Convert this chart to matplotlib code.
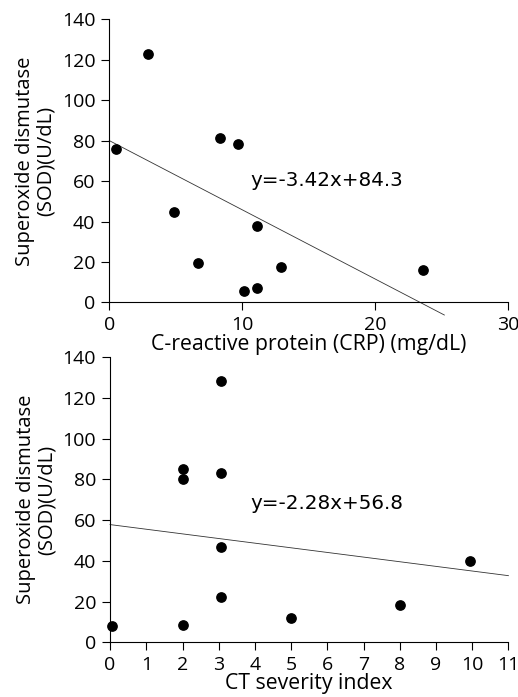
import matplotlib
matplotlib.use("Agg")
import matplotlib.pyplot as plt

plt.rcParams["font.family"] = ["Open Sans", "DejaVu Sans"]
plt.rcParams["font.size"] = 13

# top panel: SOD vs CRP
crp = [0.5, 2.9, 4.9, 6.7, 8.3, 9.7, 10.1, 11.1, 11.1, 12.9, 23.6]
sod_crp = [75.6, 122.7, 44.6, 19.3, 81.2, 78.4, 5.8, 37.7, 7.2, 17.5, 16.0]
crp_fit = (-3.42, 80.0)          # slope, intercept as drawn
crp_fit_x = [0, 25.2]
crp_eq = "y=-3.42x+84.3"

# bottom panel: SOD vs CT severity index
ct = [0.05, 2.0, 2.0, 2.0, 3.05, 3.05, 3.05, 3.05, 5.0, 8.0, 9.95]
sod_ct = [8.0, 8.5, 85.3, 80.1, 128.5, 83.0, 47.0, 22.3, 11.8, 18.2, 40.1]
ct_fit = (-2.28, 57.8)
ct_fit_x = [0, 11]
ct_eq = "y=-2.28x+56.8"

y_label = "Superoxide dismutase\n(SOD)(U/dL)"


def style_axes(ax):
    ax.spines["top"].set_visible(False)
    ax.spines["right"].set_visible(False)
    for s in ("left", "bottom"):
        ax.spines[s].set_linewidth(0.8)
    ax.tick_params(direction="out", length=6, width=0.8, pad=4, labelsize=14)
    ax.set_ylim(0, 140)
    ax.set_yticks(range(0, 141, 20))
    ax.set_ylabel(y_label, fontsize=14.5, linespacing=1.05, labelpad=4)


def draw_panel(ax, x, y, fit, fit_x, eq, eq_pos):
    ax.scatter(x, y, s=45, color="black", zorder=3, clip_on=False)
    fx = list(fit_x)
    fy = [fit[0] * v + fit[1] for v in fx]
    ax.plot(fx, fy, color="#333333", linewidth=0.6, clip_on=False)
    ax.text(eq_pos[0], eq_pos[1], eq, family="DejaVu Sans", fontsize=14.3,
            va="center", ha="left")


fig = plt.figure(figsize=(5.18, 6.97), dpi=100)

ax1 = fig.add_axes([0.211, 0.566, 0.770, 0.4065])
draw_panel(ax1, crp, sod_crp, crp_fit, crp_fit_x, crp_eq, (10.6, 60.5))
ax1.set_xlim(0, 30)
ax1.set_xticks([0, 10, 20, 30])
ax1.set_xlabel("C-reactive protein (CRP) (mg/dL)", fontsize=15.3, labelpad=0)
style_axes(ax1)

ax2 = fig.add_axes([0.2125, 0.0785, 0.769, 0.409])
draw_panel(ax2, ct, sod_ct, ct_fit, ct_fit_x, ct_eq, (3.87, 68.3))
ax2.set_xlim(0, 11)
ax2.set_xticks(range(0, 12))
ax2.set_xlabel("CT severity index", fontsize=15.3, labelpad=-0.5)
style_axes(ax2)

fig.savefig("out.png", dpi=100)
